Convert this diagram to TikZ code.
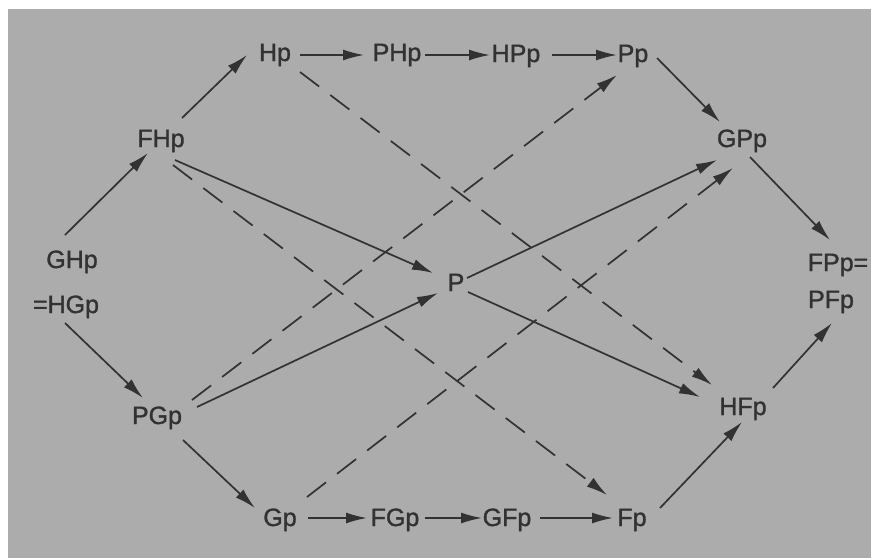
\documentclass[tikz,border=0pt]{standalone}
\usepackage{fontspec}
\setmainfont{Liberation Sans}
\newfontfamily\lblfont[FakeBold=1.2]{Liberation Sans}
\usetikzlibrary{arrows.meta,calc}
\definecolor{bg}{RGB}{172,172,172}
\definecolor{ink}{RGB}{50,50,50}
\begin{document}
\begin{tikzpicture}[x=1pt,y=-1pt,
  lbl/.style={anchor=base,inner sep=0pt,text=ink,font=\lblfont\fontsize{25}{28}\selectfont},
  arr/.style={draw=ink,line width=1.7pt,-{Latex[length=21pt,width=11pt]}},
  dsh/.style={arr,dash pattern=on 24pt off 14pt}]
\fill[white] (0,0) rectangle (871,558);
\fill[bg] (8,9) rectangle (871,558);
\useasboundingbox (0,0) rectangle (871,558);
% nodes
\node[lbl] (Hp)  at (275,61) {Hp};
\node[lbl] (PHp) at (397,61) {PHp};
\node[lbl] (HPp) at (516,62) {HPp};
\node[lbl] (Pp)  at (633,62) {Pp};
\node[lbl] (FHp) at (161,147) {FHp};
\node[lbl] (GPp) at (742,147) {GPp};
\node[lbl] (GHp) at (72,268) {GHp};
\node[lbl] (HGp) at (66,313) {=HGp};
\node[lbl] (FPp) at (838,271) {FPp=};
\node[lbl] (PFp) at (831,308) {PFp};
\node[lbl] (P)   at (456,291) {P};
\node[lbl] (PGp) at (157,424) {PGp};
\node[lbl] (HFp) at (743,415) {HFp};
\node[lbl] (Gp)  at (280,526) {Gp};
\node[lbl] (FGp) at (395,526) {FGp};
\node[lbl] (GFp) at (507,526) {GFp};
\node[lbl] (Fp)  at (632,526) {Fp};
% solid connectors
\draw[arr] ($(GHp.base)+(-7,-33)$) -- ($(FHp.base)+(-13,6)$);
\draw[arr] ($(FHp.base)+(21,-29)$) -- ($(Hp.base)+(-28,-6)$);
\draw[arr] ($(Hp.base)+(25,-6)$) -- ($(PHp.base)+(-33,-6)$);
\draw[arr] ($(PHp.base)+(28,-6)$) -- ($(HPp.base)+(-26,-7)$);
\draw[arr] ($(HPp.base)+(36,-7)$) -- ($(Pp.base)+(-16,-7)$);
\draw[arr] ($(Pp.base)+(24,-4)$) -- ($(GPp.base)+(-22,-25)$);
\draw[arr] ($(GPp.base)+(8,10)$) -- ($(FPp.base)+(-8,-31)$);
\draw[arr] ($(HGp.base)+(-1,10)$) -- ($(PGp.base)+(-14,-26)$);
\draw[arr] ($(PGp.base)+(26,16)$) -- ($(Gp.base)+(-25,-18)$);
\draw[arr] ($(Gp.base)+(28,-8)$) -- ($(FGp.base)+(-28,-8)$);
\draw[arr] ($(FGp.base)+(30,-8)$) -- ($(GFp.base)+(-25,-8)$);
\draw[arr] ($(GFp.base)+(33,-8)$) -- ($(Fp.base)+(-19,-8)$);
\draw[arr] ($(Fp.base)+(28,-18)$) -- ($(HFp.base)+(-1,7)$);
\draw[arr] ($(HFp.base)+(30,-27)$) -- ($(PFp.base)+(1,15)$);
\draw[arr] ($(FHp.base)+(14,13)$) -- ($(P.base)+(-23,-18)$);
\draw[arr] ($(PGp.base)+(40,-17)$) -- ($(P.base)+(-18,2)$);
\draw[arr] ($(P.base)+(11,-13)$) -- ($(GPp.base)+(-25,13)$);
\draw[arr] ($(P.base)+(12,1)$) -- ($(HFp.base)+(-43,-18)$);
% dashed connectors
\draw[dsh] ($(Hp.base)+(25,11)$) -- ($(HFp.base)+(-31,-30)$);
\draw[dsh] ($(FHp.base)+(12,18)$) -- ($(Fp.base)+(-25,-31)$);
\draw[dsh] ($(PGp.base)+(35,-24)$) -- ($(Pp.base)+(-16,13)$);
\draw[dsh] ($(Gp.base)+(27,-29)$) -- ($(GPp.base)+(-9,21)$);
\end{tikzpicture}
\end{document}
